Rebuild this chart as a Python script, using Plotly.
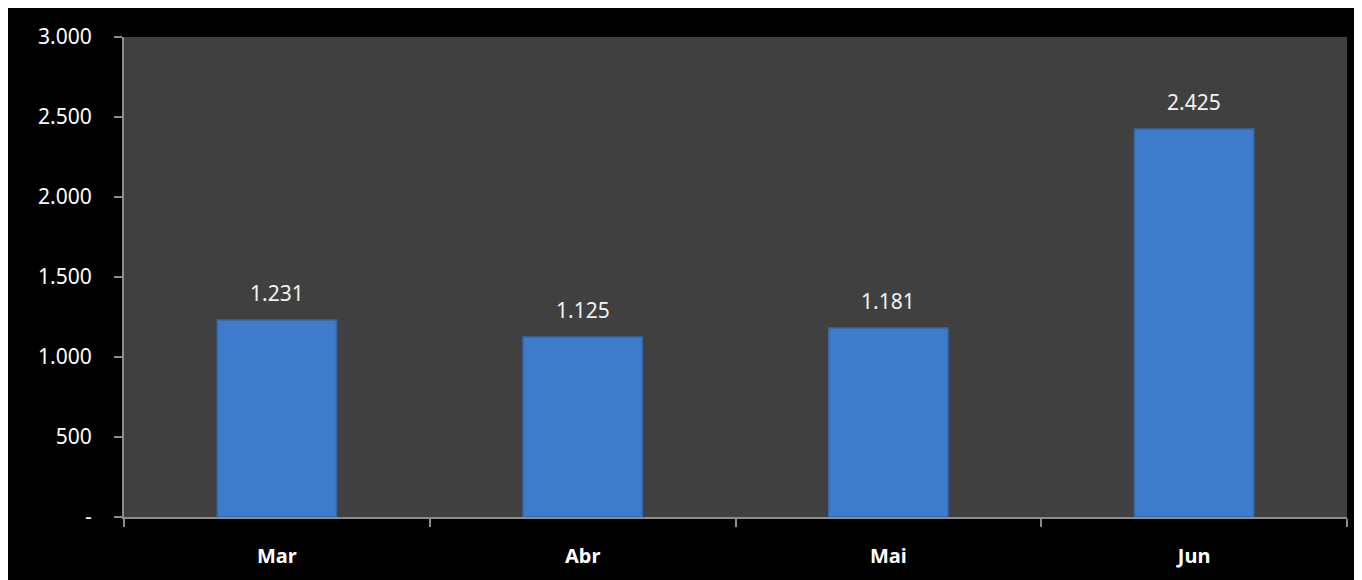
import plotly.graph_objects as go

months = ["Mar", "Abr", "Mai", "Jun"]
values = [1231, 1125, 1181, 2425]
y_ticks = [0, 500, 1000, 1500, 2000, 2500, 3000]
y_tick_labels = ["-", "500", "1.000", "1.500", "2.000", "2.500", "3.000"]

FONT = "Noto Sans"

fig = go.Figure()
fig.add_trace(go.Bar(
    x=months,
    y=values,
    width=0.39,
    marker=dict(color="#3e7bcb", line=dict(color="#3667a8", width=1.5)),
    hoverinfo="x+y",
))

# data labels sitting a bit above each bar
for m, v in zip(months, values):
    fig.add_annotation(
        x=m, y=v, text=f"{v:,}".replace(",", "."),
        showarrow=False, yanchor="bottom", yshift=11,
        font=dict(family=FONT, size=21, color="#f2f2f2"),
    )

fig.update_layout(
    width=1362, height=580,
    paper_bgcolor="black",
    plot_bgcolor="#404040",
    margin=dict(l=116, r=23, t=29, b=71),
    font=dict(family=FONT, size=20, color="white"),
    showlegend=False,
)
fig.update_xaxes(
    showgrid=False, showline=True, linecolor="#8c8c8c", linewidth=2,
    ticks="outside", tickson="boundaries", ticklen=8, tickcolor="#8c8c8c", tickwidth=2,
    tickfont=dict(family=FONT, size=20, color="white", weight="bold"),
    ticklabelstandoff=20,
)
fig.update_yaxes(
    range=[0, 3000], tickvals=y_ticks, ticktext=y_tick_labels,
    showgrid=False, zeroline=False, showline=True, linecolor="#8c8c8c", linewidth=2,
    ticks="outside", ticklen=8, tickcolor="#8c8c8c", tickwidth=2,
    tickfont=dict(family=FONT, size=21, color="white"),
    ticklabelstandoff=18,
)

fig.write_html("out.html")
